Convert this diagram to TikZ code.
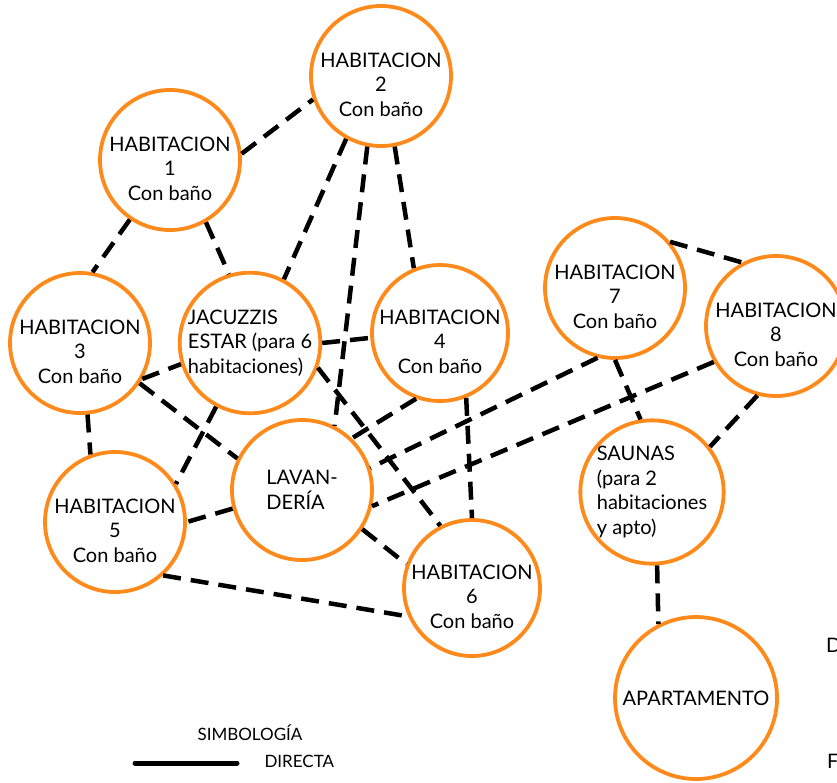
\documentclass[tikz,border=0pt]{standalone}
\usepackage{fontspec}
\setmainfont{Lato}
\usepackage{xcolor}
\usepackage{tikz}
\definecolor{naranja}{HTML}{FF8A1C}
\newcommand{\habtexto}[1]{\raisebox{-16pt}[0pt][0pt]{\begin{tabular}{@{}c@{}}HABITACION\\#1\\Con baño\end{tabular}}}

\begin{document}
\begin{tikzpicture}[x=1pt, y=-1pt,
  sala/.style={circle, draw=naranja, line width=3.8pt, fill=white,
    minimum size=140pt, inner sep=0pt, align=center,
    font=\fontsize{20}{24.5}\selectfont},
  enlace/.style={line width=4.5pt, dash pattern=on 18pt off 10pt},
  leyenda/.style={font=\fontsize{17}{20}\selectfont}]
  \useasboundingbox (0,0) rectangle (837,782);

  % salas
  \node[sala] (h2)  at (381,76)  {\habtexto{2}};
  \node[sala] (h1)  at (170,160) {\habtexto{1}};
  \node[sala] (h3)  at (80,343)  {\habtexto{3}};
  \node[sala, align=left] (jac) at (250,343) {JACUZZIS\\ESTAR (para 6\\habitaciones)};
  \node[sala, minimum size=136pt] (h4) at (440,333) {\habtexto{4}};
  \node[sala] (h7)  at (615,288) {\habtexto{7}};
  \node[sala] (h8)  at (776,326) {\habtexto{8}};
  \node[sala, align=left] (lav) at (302,490) {LAVAN-\\DERÍA};
  \node[sala] (h5)  at (115,522) {\habtexto{5}};
  \node[sala, minimum size=136pt] (h6) at (472,588) {\habtexto{6}};
  \node[sala, align=left] (sau) at (652,492) {SAUNAS\\(para 2\\habitaciones\\y apto)};
  \node[sala, minimum size=162pt] (apt) at (696,698) {APARTAMENTO};

  % relaciones
  \draw[enlace] (h1.5)    -- (h2.199);
  \draw[enlace] (h1.236)  -- (h3.80);
  \draw[enlace] (h1.-60)  -- (jac.107);
  \draw[enlace] (h2.-119) -- (jac.62);
  \draw[enlace] (h2.-101) -- (lav.63);
  \draw[enlace] (h2.-79)  -- (h4.112);
  \draw[enlace] (h3.-30)  -- (jac.197);
  \draw[enlace] (h3.-84)  -- (h5.110);
  \draw[enlace] (h3.-34)  -- (lav.154);
  \draw[enlace] (jac.0)   -- (h4.184);
  \draw[enlace] (jac.-118) -- (h5.32);
  \draw[enlace] (jac.-20) -- (h6.117);
  \draw[enlace] (h4.-110) -- (lav.46);
  \draw[enlace] (h4.-68)  -- (h6.90);
  \draw[enlace] (h7.-104) -- (lav.18);
  \draw[enlace] (h8.-150) -- (lav.-13);
  \draw[enlace] (h7.40)   -- (h8.118);
  \draw[enlace] (h7.270)  -- (sau.99);
  \draw[enlace] (h8.-105) -- (sau.38);
  \draw[enlace] (sau.-86) -- (apt.117);
  \draw[enlace] (lav.195) -- (h5.0);
  \draw[enlace] (lav.-33) -- (h6.160);
  \draw[enlace] (h5.-48)  -- (h6.204);

  % simbologia
  \node[leyenda] (simb) at (250,733) {SIMBOLOGÍA};
  \coordinate (leyA) at (135,763);
  \coordinate (leyB) at (237,763);
  \draw[line width=5pt, line cap=round] (leyA) -- (leyB);
  \node[leyenda, anchor=west] (directa) at (261,761) {DIRECTA};

  % textos cortados al borde
  \node[anchor=west, inner sep=0pt, font=\fontsize{20}{24}\selectfont] (letraD) at (826,645) {D};
  \node[anchor=west, inner sep=0pt, font=\fontsize{20}{24}\selectfont] (letraF) at (827,761) {F};
\end{tikzpicture}
\end{document}
